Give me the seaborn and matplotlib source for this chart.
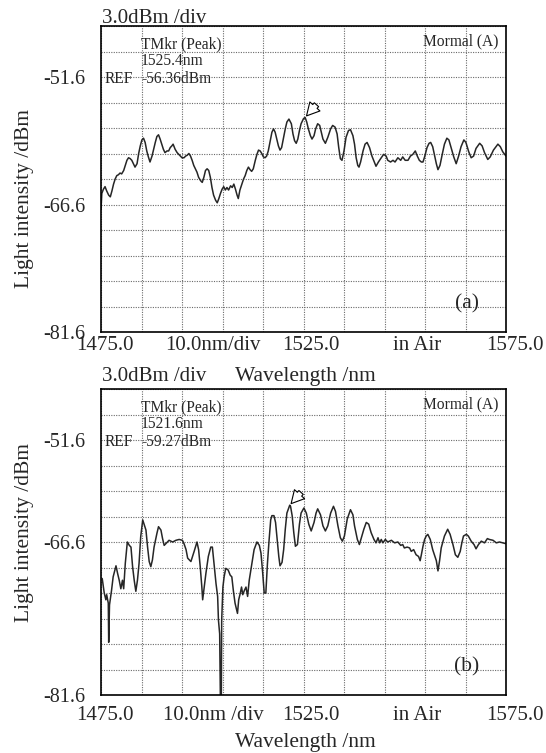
import matplotlib
matplotlib.use("Agg")
import matplotlib.pyplot as plt
import numpy as np
import pandas as pd
import seaborn as sns

# ---- trace (a): wavelength (nm) / intensity (dBm) ----
top_wl = [
    1475.0, 1475.2, 1475.6, 1476.0, 1476.4, 1476.9, 1477.3, 1477.7, 1478.1, 1478.5,
    1478.9, 1479.3, 1479.7, 1480.1, 1480.6, 1481.0, 1481.4, 1481.8, 1482.2, 1482.6,
    1483.0, 1483.4, 1483.9, 1484.3, 1484.7, 1485.1, 1485.5, 1485.9, 1486.3, 1486.7,
    1487.1, 1487.6, 1488.0, 1488.4, 1488.8, 1489.2, 1489.6, 1490.0, 1490.4, 1490.8,
    1491.3, 1491.7, 1492.1, 1492.5, 1492.8, 1493.3, 1493.8, 1494.2, 1494.6, 1495.0,
    1495.5, 1495.9, 1496.3, 1496.7, 1497.1, 1497.5, 1497.9, 1498.3, 1498.7, 1499.1,
    1499.6, 1500.0, 1500.4, 1500.8, 1501.2, 1501.6, 1502.0, 1502.4, 1502.8, 1503.3,
    1503.7, 1504.1, 1504.5, 1504.9, 1505.3, 1505.7, 1506.1, 1506.5, 1507.0, 1507.4,
    1507.8, 1508.2, 1508.6, 1508.9, 1509.3, 1509.8, 1510.2, 1510.6, 1511.0, 1511.4,
    1511.8, 1512.2, 1512.6, 1513.1, 1513.5, 1513.9, 1514.3, 1514.7, 1515.1, 1515.5,
    1515.9, 1516.3, 1516.8, 1517.2, 1517.6, 1518.0, 1518.4, 1518.8, 1519.2, 1519.6,
    1520.0, 1520.5, 1520.9, 1521.4, 1522.0, 1522.4, 1522.8, 1523.2, 1523.6, 1524.0,
    1524.4, 1525.0, 1525.4, 1525.8, 1526.2, 1526.7, 1527.1, 1527.6, 1528.0, 1528.5,
    1529.0, 1529.4, 1529.8, 1530.4, 1531.0, 1531.7, 1532.2, 1532.8, 1533.3, 1533.7,
    1534.1, 1534.5, 1535.0, 1535.5, 1536.1, 1536.6, 1537.2, 1537.6, 1538.0, 1538.4,
    1538.7, 1539.1, 1539.7, 1540.2, 1540.7, 1541.3, 1541.9, 1542.5, 1542.9, 1543.5,
    1544.2, 1544.8, 1545.4, 1545.8, 1546.5, 1547.1, 1547.6, 1548.3, 1549.0, 1549.5,
    1550.1, 1550.8, 1551.4, 1552.0, 1552.6, 1553.1, 1553.6, 1554.1, 1554.5, 1554.9,
    1555.5, 1556.0, 1556.4, 1556.9, 1557.4, 1557.8, 1558.2, 1558.7, 1559.3, 1559.8,
    1560.4, 1560.9, 1561.5, 1562.1, 1562.7, 1563.3, 1563.9, 1564.6, 1565.1, 1565.8,
    1566.4, 1567.0, 1567.6, 1568.5, 1569.1, 1569.7, 1570.5, 1571.1, 1571.9, 1573.0,
    1573.6, 1574.2, 1575.0,
]
top_db = [
    -67.2, -65.3, -64.8, -64.5, -65.0, -65.5, -65.7, -65.0, -64.2, -63.6,
    -63.2, -63.1, -62.9, -63.0, -62.6, -62.0, -61.4, -61.1, -61.2, -61.4,
    -61.8, -62.2, -61.8, -60.6, -59.7, -59.0, -58.8, -59.3, -60.3, -61.0,
    -61.6, -60.9, -60.1, -59.3, -58.6, -58.4, -58.9, -59.5, -60.1, -60.5,
    -60.3, -60.3, -59.9, -59.7, -59.5, -60.1, -60.5, -60.7, -60.9, -61.1,
    -61.1, -60.9, -60.8, -60.6, -60.9, -61.4, -62.0, -62.4, -62.8, -63.4,
    -63.8, -64.0, -63.4, -62.6, -62.4, -62.6, -63.4, -64.6, -65.5, -66.1,
    -66.4, -65.9, -65.3, -64.8, -64.5, -64.9, -64.6, -64.9, -64.4, -64.6,
    -64.2, -64.8, -65.5, -65.9, -64.9, -64.2, -63.6, -63.2, -62.6, -62.2,
    -62.5, -62.7, -62.4, -61.4, -60.7, -60.2, -60.3, -60.6, -61.0, -61.1,
    -60.9, -60.3, -59.1, -58.1, -57.7, -58.1, -58.9, -59.7, -60.2, -59.9,
    -58.9, -57.7, -56.9, -56.55, -57.1, -58.3, -59.1, -59.4, -58.9, -57.9,
    -57.1, -56.5, -56.36, -56.9, -57.7, -58.5, -58.9, -58.5, -57.7, -57.1,
    -57.3, -58.1, -58.9, -59.4, -58.7, -57.7, -57.3, -57.5, -58.3, -59.9,
    -61.2, -61.4, -60.3, -58.7, -57.9, -57.8, -58.5, -59.5, -61.1, -62.0,
    -62.2, -61.6, -60.3, -59.5, -59.3, -59.9, -60.9, -61.6, -62.1, -61.6,
    -61.1, -60.7, -60.9, -61.4, -61.6, -61.4, -61.6, -61.1, -61.4, -61.0,
    -61.4, -61.4, -60.9, -60.7, -60.3, -60.9, -61.4, -61.6, -61.6, -61.0,
    -59.9, -59.4, -59.3, -59.8, -60.9, -61.8, -62.5, -62.0, -60.6, -59.5,
    -58.8, -59.0, -60.0, -61.0, -61.8, -60.9, -59.8, -59.0, -59.3, -60.4,
    -61.1, -60.9, -60.0, -59.4, -59.7, -60.5, -61.3, -61.0, -60.2, -59.5,
    -59.8, -60.4, -60.9,
]

# ---- trace (b) ----
bot_wl = [
    1475.3, 1475.8, 1476.2, 1476.4, 1476.8, 1476.9, 1477.1, 1477.6, 1478.0, 1478.7,
    1479.1, 1479.5, 1479.9, 1480.3, 1480.6, 1481.0, 1481.5, 1482.0, 1482.4, 1482.8,
    1483.2, 1483.6, 1484.0, 1484.4, 1484.8, 1485.3, 1485.7, 1486.1, 1486.5, 1486.9,
    1487.3, 1487.7, 1488.1, 1488.8, 1489.2, 1489.8, 1490.2, 1490.6, 1491.0, 1491.8,
    1492.7, 1493.5, 1494.3, 1495.1, 1495.5, 1496.0, 1496.4, 1497.2, 1498.0, 1498.7,
    1499.1, 1499.5, 1499.9, 1500.1, 1500.5, 1500.9, 1501.5, 1502.1, 1502.5, 1502.9,
    1503.4, 1503.8, 1504.0, 1504.3, 1504.5, 1504.7, 1504.8, 1505.1, 1505.4, 1505.8,
    1506.4, 1506.9, 1507.3, 1507.7, 1508.1, 1508.4, 1508.7, 1509.0, 1509.4, 1509.7,
    1510.0, 1510.4, 1510.8, 1511.2, 1511.6, 1512.0, 1512.4, 1512.8, 1513.5, 1514.1,
    1514.5, 1514.9, 1515.3, 1515.7, 1516.1, 1516.5, 1516.9, 1517.2, 1517.7, 1518.1,
    1518.5, 1518.9, 1519.2, 1519.7, 1520.1, 1520.5, 1520.9, 1521.6, 1521.8, 1522.2,
    1522.6, 1523.0, 1523.5, 1524.0, 1524.4, 1525.1, 1525.7, 1526.3, 1526.9, 1527.6,
    1528.1, 1528.5, 1529.2, 1529.8, 1530.4, 1531.0, 1531.7, 1532.4, 1532.9, 1533.5,
    1534.1, 1534.6, 1535.1, 1535.8, 1536.6, 1537.2, 1537.6, 1538.3, 1538.8, 1539.4,
    1539.9, 1540.5, 1541.1, 1541.7, 1542.4, 1542.9, 1543.4, 1543.8, 1544.2, 1544.6,
    1545.2, 1545.8, 1546.7, 1547.5, 1548.3, 1549.0, 1549.5, 1549.9, 1550.6, 1551.2,
    1551.6, 1552.2, 1552.8, 1553.4, 1553.8, 1554.1, 1554.5, 1554.9, 1555.3, 1555.7,
    1556.3, 1556.9, 1557.8, 1558.2, 1558.6, 1559.0, 1559.8, 1560.6, 1561.2, 1561.9,
    1562.5, 1563.1, 1563.7, 1564.1, 1564.5, 1565.2, 1565.7, 1566.4, 1567.1, 1567.6,
    1568.2, 1568.9, 1569.7, 1570.4, 1570.9, 1571.8, 1572.6, 1573.4, 1574.2, 1575.0,
]
bot_db = [
    -67.9, -69.6, -70.4, -69.8, -70.8, -75.4, -71.0, -69.3, -67.7, -66.4,
    -67.3, -68.1, -69.1, -68.1, -69.1, -66.1, -63.6, -64.0, -64.2, -66.5,
    -68.1, -69.4, -68.1, -66.1, -63.0, -61.0, -61.6, -62.2, -64.2, -65.9,
    -66.5, -65.7, -64.2, -62.6, -61.8, -62.2, -63.2, -64.0, -63.8, -63.4,
    -63.6, -63.4, -63.3, -63.4, -63.8, -64.5, -65.5, -65.9, -64.7, -63.6,
    -64.5, -66.5, -68.9, -70.4, -68.9, -67.3, -65.3, -64.2, -64.2, -66.1,
    -68.5, -70.0, -72.8, -74.4, -83.0, -83.0, -72.8, -68.9, -67.7, -66.7,
    -66.9, -67.5, -67.7, -69.4, -70.8, -71.4, -72.0, -70.4, -69.6, -68.9,
    -69.8, -69.3, -68.9, -70.0, -68.1, -66.9, -65.7, -64.5, -63.6, -64.0,
    -64.9, -67.1, -69.6, -69.6, -66.1, -63.4, -61.0, -60.5, -60.5, -61.3,
    -63.3, -65.3, -66.4, -66.0, -64.5, -62.1, -60.2, -59.27, -59.4, -60.5,
    -62.5, -64.1, -63.9, -61.5, -60.2, -59.6, -60.2, -61.5, -62.3, -61.3,
    -60.2, -59.7, -60.4, -61.7, -62.3, -61.7, -60.2, -59.4, -60.0, -61.7,
    -63.1, -63.5, -62.9, -60.9, -59.8, -60.4, -61.7, -63.3, -63.9, -62.9,
    -62.1, -61.3, -61.5, -62.5, -63.3, -63.7, -63.1, -63.7, -63.3, -63.7,
    -63.3, -63.6, -63.4, -63.7, -63.6, -64.0, -63.9, -64.3, -64.2, -64.3,
    -64.7, -64.5, -65.1, -65.3, -65.8, -65.1, -64.1, -63.3, -62.9, -62.7,
    -63.3, -64.5, -65.8, -67.0, -65.8, -64.3, -62.9, -62.1, -62.7, -63.9,
    -65.1, -65.4, -64.7, -63.7, -62.9, -62.7, -62.9, -63.5, -63.9, -64.4,
    -63.9, -63.5, -63.7, -63.2, -63.3, -63.4, -63.7, -63.6, -63.7, -63.8,
]

# marker readouts
peak_a = (1525.4, -56.36)
peak_b = (1521.6, -59.27)

# screen settings
x_start, x_stop, x_div = 1475.0, 1575.0, 10.0
y_bottom, y_div, n_ydiv = -81.6, 3.0, 12
ytick_top = {-51.6: "-51.6", -66.6: "-66.6", -81.6: "-81.6"}
ytick_bot = {-51.6: "-51.6", -63.6: "-66.6", -81.6: "-81.6"}  # label sits one div high on the scan
xlabels_top = ["1475.0", "10.0nm/div", "1525.0", "in Air", "1575.0"]
xlabels_bot = ["1475.0", "10.0nm /div", "1525.0", "in Air", "1575.0"]

W, H = 546, 753
SERIF = ["Liberation Serif", "DejaVu Serif"]

sns.set_theme(style="white")
plt.rcParams["font.family"] = SERIF
plt.rcParams["axes.unicode_minus"] = False

fig = plt.figure(figsize=(W / 100, H / 100), dpi=100)


def fig_text(x, y, s, **kw):
    """place text at pixel position (origin top-left)"""
    fig.text(x / W, 1 - y / H, s, **kw)


def draw_panel(top_px, wl, db, peak, yticks, xlabels, tag, xl_y, wl_y, div_y, ylab_y):
    left_px, width_px, height_px = 101, 405, 306
    ax = fig.add_axes([left_px / W, 1 - (top_px + height_px) / H, width_px / W, height_px / H])

    df = pd.DataFrame({"wl": wl, "db": db})
    sns.lineplot(data=df, x="wl", y="db", ax=ax, color="#262626", linewidth=1.1,
                 sort=False, estimator=None)

    ax.set_xlim(x_start, x_stop)
    ax.set_ylim(y_bottom, y_bottom + n_ydiv * y_div)
    ax.set_xticks(np.arange(x_start, x_stop + 0.1, x_div))
    ax.set_xticklabels([])
    yt = np.round(np.arange(n_ydiv + 1) * y_div + y_bottom, 1)
    ax.set_yticks(yt)
    ax.set_yticklabels([yticks.get(v, "") for v in yt], fontsize=14.5)
    ax.tick_params(axis="both", length=0)
    ax.tick_params(axis="y", pad=11)
    ax.grid(True, color="#6a6a6a", linestyle=(0, (1, 1.2)), linewidth=0.8)
    for sp in ax.spines.values():
        sp.set_visible(True)
        sp.set_color("black")
        sp.set_linewidth(1.2)
    ax.set_xlabel("")
    ax.set_ylabel("")

    # marker arrow
    ax.annotate("", xy=peak, xytext=(peak[0] + 2.8, peak[1] + 1.5),
                arrowprops=dict(arrowstyle="simple,head_length=0.7,head_width=0.75,tail_width=0.32",
                                fc="white", ec="black", lw=0.8, shrinkA=0, shrinkB=1.5,
                                mutation_scale=13))

    # on-screen readouts
    fs = 11.2
    fig_text(141, top_px + 22, "TMkr (Peak)", fontsize=fs, va="baseline")
    fig_text(141, top_px + 39, f"{peak[0]:.1f}nm", fontsize=fs, va="baseline")
    fig_text(105, top_px + 57, "REF", fontsize=fs, va="baseline")
    fig_text(141, top_px + 57, f"{peak[1]:.2f}dBm", fontsize=fs, va="baseline")
    fig_text(498, top_px + 15, "Mormal (A)", fontsize=fs, va="center", ha="right")
    fig_text(467, top_px + 278, tag, fontsize=15.5, va="center", ha="center")

    # labels around the frame
    fig_text(102, div_y, "3.0dBm /div", fontsize=15, va="baseline")
    for xc, s in zip([105, 213, 311, 417, 515], xlabels):
        fig_text(xc, xl_y, s, fontsize=15, ha="center", va="center")
    fig_text(305, wl_y, "Wavelength /nm", fontsize=15.5, ha="center", va="center")
    fig_text(24, ylab_y, "Light intensity /dBm", fontsize=15.5, rotation=90,
             ha="center", va="center")
    return ax


draw_panel(26, top_wl, top_db, peak_a, ytick_top, xlabels_top, "(a)",
           xl_y=346, wl_y=377, div_y=23, ylab_y=199)
draw_panel(389, bot_wl, bot_db, peak_b, ytick_bot, xlabels_bot, "(b)",
           xl_y=715, wl_y=742, div_y=381, ylab_y=533)

fig.savefig("out.png", dpi=100, facecolor="white")
